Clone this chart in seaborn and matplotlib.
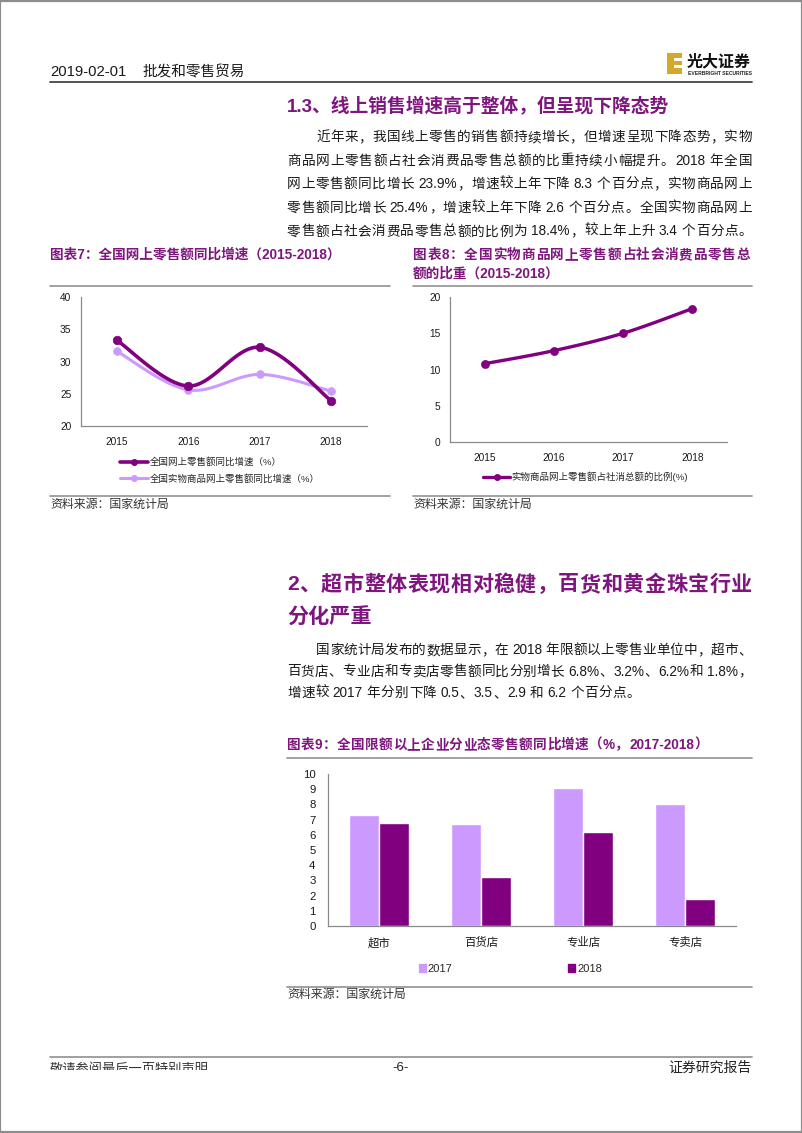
import re
import numpy as np
import pandas as pd
import seaborn as sns
import matplotlib
matplotlib.use('Agg')
from matplotlib import pyplot as plt
from matplotlib.lines import Line2D
from matplotlib.patches import Rectangle, Patch

# DATA
years = ['2015', '2016', '2017', '2018']
online_growth = [33.3, 26.2, 32.2, 23.9]        # 全国网上零售额同比增速
physical_growth = [31.6, 25.6, 28.0, 25.4]      # 全国实物商品网上零售额同比增速
physical_share = [10.8, 12.6, 15.0, 18.4]       # 实物商品网上零售额占社消总额的比例
formats = ['超市', '百货店', '专业店', '专卖店']
growth_2017 = [7.3, 6.7, 9.1, 8.0]
growth_2018 = [6.8, 3.2, 6.2, 1.8]

W, H = 802, 1133
PURPLE = '#7E167E'
DARK = '#800080'
LIGHT = '#CC99FF'
GRAY = '#9a9a9a'
TXT = '#1a1a1a'

sns.set_style('white')
plt.rcParams['font.family'] = ['Liberation Sans', 'Noto Sans CJK SC', 'DejaVu Sans']

fig = plt.figure(figsize=(W / 100, H / 100), dpi=100)
renderer = fig.canvas.get_renderer()


def fx(x):
    return x / W


def fy(y):
    return 1 - y / H


def hline(x0, x1, y, color=GRAY, lw=1.3):
    fig.add_artist(Line2D([fx(x0), fx(x1)], [fy(y), fy(y)], color=color, lw=lw))


def put(text, x, y, size, color=TXT, weight='normal', ha='left'):
    return fig.text(fx(x), fy(y), text, fontsize=size, color=color,
                    fontweight=weight, ha=ha, va='center')


def put_just(text, x0, x1, y, size, color=TXT, weight='normal'):
    # spread tokens so the line runs from x0 to x1
    toks = re.findall(r' *[0-9A-Za-z.%\-]+ *|.', text)
    arts, widths = [], []
    for t in toks:
        a = fig.text(0, fy(y), t.strip(), fontsize=size, color=color,
                     fontweight=weight, ha='left', va='center')
        w = a.get_window_extent(renderer).width
        pad_l = (len(t) - len(t.lstrip())) * 3.5
        pad_r = (len(t) - len(t.rstrip())) * 3.5
        arts.append((a, pad_l))
        widths.append(w + pad_l + pad_r)
    gap = (x1 - x0 - sum(widths)) / max(len(toks) - 1, 1)
    x = x0
    for (a, pad_l), w in zip(arts, widths):
        a.set_x(fx(x + pad_l))
        x += w + gap


def add_ax(l, t, r, b):
    return fig.add_axes([fx(l), fy(b), (r - l) / W, (b - t) / H])


def smooth(vals, n=40):
    # bezier smoothing like office charts
    p = np.column_stack([np.arange(len(vals)), np.asarray(vals, float)])
    pts = [p[0]]
    for i in range(len(p) - 1):
        p0 = p[max(i - 1, 0)]
        p1, p2 = p[i], p[i + 1]
        p3 = p[min(i + 2, len(p) - 1)]
        c1 = p1 + (p2 - p0) / 6
        c2 = p2 - (p3 - p1) / 6
        t = np.linspace(0, 1, n)[1:, None]
        seg = ((1 - t) ** 3) * p1 + 3 * ((1 - t) ** 2) * t * c1 + 3 * (1 - t) * t ** 2 * c2 + t ** 3 * p2
        pts.extend(seg)
    pts = np.array(pts)
    return pts[:, 0], pts[:, 1]


def style_ax(ax, ylim, ystep, labels, lsize):
    for s in ['top', 'right']:
        ax.spines[s].set_visible(False)
    for s in ['left', 'bottom']:
        ax.spines[s].set_color('#8a8a8a')
        ax.spines[s].set_linewidth(0.9)
    ax.set_xlim(-0.5, len(labels) - 0.5)
    ax.set_ylim(*ylim)
    ax.set_yticks(np.arange(ylim[0], ylim[1] + 0.01, ystep))
    ax.set_xticks(range(len(labels)))
    ax.set_xticklabels(labels)
    ax.set_xticks(np.arange(-0.5, len(labels), 1.0), minor=True)
    ax.tick_params(axis='x', which='major', length=0, pad=8, labelsize=lsize, labelcolor=TXT)
    ax.tick_params(axis='x', which='minor', length=4, width=0.9, color='#8a8a8a', direction='out')
    ax.tick_params(axis='y', length=4, width=0.9, color='#8a8a8a', direction='out',
                   pad=3, labelsize=lsize, labelcolor=TXT)
    ax.set_xlabel('')
    ax.set_ylabel('')
    ax.grid(False)


# page frame
fig.add_artist(Rectangle((0.0005, 0.0005), 0.999, 0.999, transform=fig.transFigure,
                         fill=False, edgecolor='#8c8c8c', lw=1.6))

# header
put('2019-02-01', 50, 72, 10.7)
put('批发和零售贸易', 143, 72, 10.5)
fig.add_artist(Rectangle((fx(667), fy(74)), 15 / W, 21 / H, transform=fig.transFigure,
                         color='#D4A82A', lw=0))
for yy in [59, 66]:
    fig.add_artist(Rectangle((fx(674), fy(yy + 1.5)), 8 / W, 3 / H, transform=fig.transFigure,
                             color='white', lw=0))
put('光大证券', 687, 62, 11.5, color='#111111', weight='bold')
put('EVERBRIGHT SECURITIES', 688, 73.5, 3.6, color='#222222', weight='bold')
hline(50, 752, 81.5, color='#444444', lw=1.3)

# section 1.3
put('1.3、线上销售增速高于整体，但呈现下降态势', 287, 107, 13.5, color=PURPLE, weight='bold')
p1 = ['近年来，我国线上零售的销售额持续增长，但增速呈现下降态势，实物',
      '商品网上零售额占社会消费品零售总额的比重持续小幅提升。2018 年全国',
      '网上零售额同比增长 23.9%，增速较上年下降 8.3 个百分点，实物商品网上',
      '零售额同比增长 25.4%，增速较上年下降 2.6 个百分点。全国实物商品网上',
      '零售额占社会消费品零售总额的比例为 18.4%，较上年上升 3.4 个百分点。']
for i, line in enumerate(p1):
    put_just(line, 316 if i == 0 else 287, 752, 137 + i * 23.6, 9.8)

# chart 7
put('图表7：全国网上零售额同比增速（2015-2018）', 50, 255, 9.8, color=PURPLE, weight='bold')
hline(50, 390, 286)
ax7 = add_ax(81, 297, 367, 426)
xs, ys = smooth(online_growth)
sns.lineplot(x=xs, y=ys, ax=ax7, color=DARK, lw=2.6, zorder=3)
xs, ys = smooth(physical_growth)
sns.lineplot(x=xs, y=ys, ax=ax7, color=LIGHT, lw=2.2, zorder=2)
sns.scatterplot(x=range(4), y=online_growth, ax=ax7, color=DARK, s=38, edgecolor=DARK, zorder=4)
sns.scatterplot(x=range(4), y=physical_growth, ax=ax7, color=LIGHT, s=32, edgecolor=LIGHT, zorder=3)
style_ax(ax7, (20, 40), 5, years, 7.3)
h7 = [Line2D([], [], color=DARK, lw=2.6, marker='o', ms=4),
      Line2D([], [], color=LIGHT, lw=2.2, marker='o', ms=4)]
ax7.legend(h7, ['全国网上零售额同比增速（%）', '全国实物商品网上零售额同比增速（%）'],
           loc='center left', bbox_to_anchor=(fx(120), fy(470.5)), bbox_transform=fig.transFigure,
           frameon=False, fontsize=6.8, handlelength=3.0, handletextpad=0.1,
           borderpad=0, borderaxespad=0, labelspacing=0.7)
hline(50, 390, 495.5)
put('资料来源：国家统计局', 50, 505, 8.6, color='#333333')

# chart 8
put_just('图表8：全国实物商品网上零售额占社会消费品零售总', 413, 750, 255, 9.8, color=PURPLE, weight='bold')
put('额的比重（2015-2018）', 413, 274, 9.8, color=PURPLE, weight='bold')
hline(413, 752, 286)
ax8 = add_ax(450, 297, 727, 442)
xs, ys = smooth(physical_share)
sns.lineplot(x=xs, y=ys, ax=ax8, color=DARK, lw=2.4, zorder=3)
sns.scatterplot(x=range(4), y=physical_share, ax=ax8, color=DARK, s=34, edgecolor=DARK, zorder=4)
style_ax(ax8, (0, 20), 5, years, 7.3)
ax8.legend([Line2D([], [], color=DARK, lw=2.4, marker='o', ms=4)], ['实物商品网上零售额占社消总额的比例(%)'],
           loc='center left', bbox_to_anchor=(fx(483), fy(477)), bbox_transform=fig.transFigure,
           frameon=False, fontsize=6.8, handlelength=2.9, handletextpad=0.1,
           borderpad=0, borderaxespad=0)
hline(413, 752, 495.5)
put('资料来源：国家统计局', 413, 505, 8.6, color='#333333')

# section 2
put_just('2、超市整体表现相对稳健，百货和黄金珠宝行业', 287, 752, 585, 15.2, color=PURPLE, weight='bold')
put('分化严重', 287, 618, 15.2, color=PURPLE, weight='bold')
p2 = ['国家统计局发布的数据显示，在 2018 年限额以上零售业单位中，超市、',
      '百货店、专业店和专卖店零售额同比分别增长 6.8%、3.2%、6.2%和 1.8%，']
for i, line in enumerate(p2):
    put_just(line, 316 if i == 0 else 287, 752, 650 + i * 21.5, 9.8)
put_just('增速较 2017 年分别下降 0.5、3.5、2.9 和 6.2 个百分点。', 287, 640, 693, 9.8)

# chart 9
put_just('图表9：全国限额以上企业分业态零售额同比增速（%，2017-2018）', 287, 708, 745, 9.8,
         color=PURPLE, weight='bold')
hline(287, 752, 757.5)
ax9 = add_ax(328, 774, 736, 926)
df9 = pd.DataFrame({'业态': formats * 2,
                    '年份': ['2017'] * 4 + ['2018'] * 4,
                    '增速': growth_2017 + growth_2018})
sns.barplot(data=df9, x='业态', y='增速', hue='年份', palette=[LIGHT, DARK],
            width=0.58, gap=0, saturation=1, errorbar=None, ax=ax9, legend=False)
style_ax(ax9, (0, 10), 1, formats, 8.2)
ax9.tick_params(axis='x', which='major', pad=8)
ax9.tick_params(axis='y', pad=5)
ax9.legend([Patch(color=LIGHT), Patch(color=DARK)], ['2017', '2018'], ncol=2,
           loc='center left', bbox_to_anchor=(fx(419), fy(969)), bbox_transform=fig.transFigure,
           frameon=False, fontsize=8.0, handlelength=0.65, handleheight=0.65, handletextpad=0.15,
           columnspacing=10.4, borderpad=0, borderaxespad=0)
hline(287, 752, 986.5)
put('资料来源：国家统计局', 287, 995, 8.6, color='#333333')

# footer
hline(50, 752, 1056.5, color='#999999', lw=1.3)
put('敬请参阅最后一页特别声明', 50, 1070, 9.5, color='#333333')
fig.add_artist(Rectangle((fx(48), fy(1080)), 160 / W, 10 / H, transform=fig.transFigure,
                         color='white', lw=0, zorder=10))
put('-6-', 401, 1068, 9.5, color='#222222', ha='center')
put('证券研究报告', 752, 1068, 10, color='#222222', ha='right')

fig.savefig('out.png', dpi=100)
